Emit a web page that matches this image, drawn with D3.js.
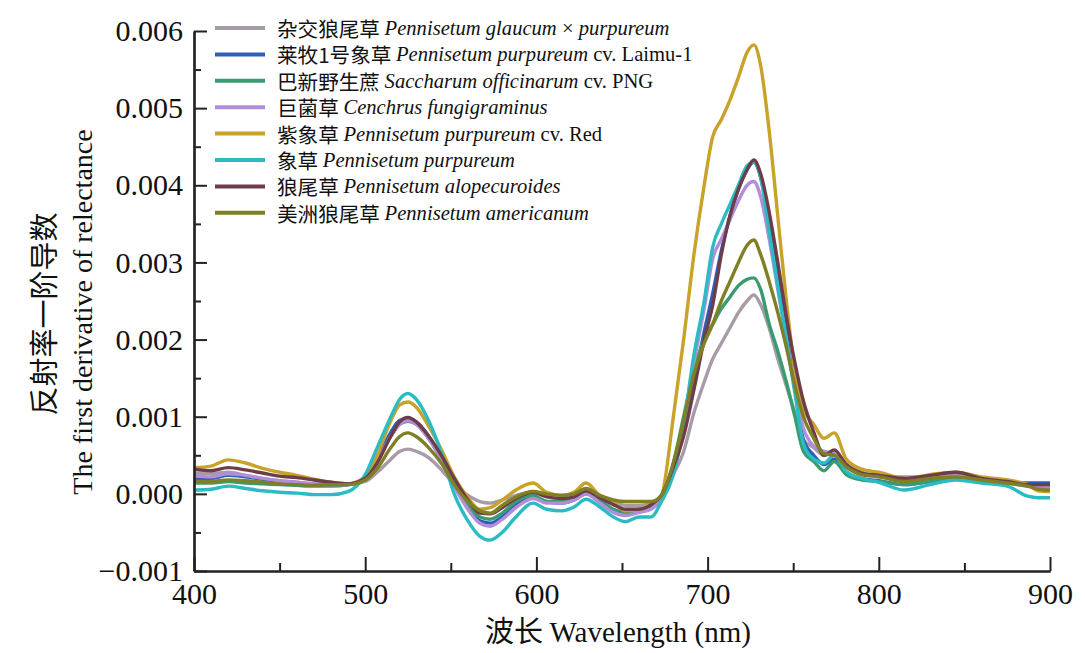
<!DOCTYPE html>
<html>
<head>
<meta charset="utf-8">
<script src="https://cdn.jsdelivr.net/npm/d3@7"></script>
<style>
  body { margin: 0; background: #fff; }
  svg { display: block; }
  text { font-family: "Liberation Serif", "Times New Roman", serif; fill: #111; }
  .cjk { font-family: "Noto Sans CJK SC", sans-serif; }
</style>
</head>
<body>
<svg id="chart" width="1085" height="653"></svg>
<script>
// wavelength grid (nm)
var wavelength = [400, 410, 420, 430, 440, 450, 460, 470, 480, 490,
  500, 507, 515, 520, 525, 530, 537, 545, 552, 560,
  567, 573, 580, 588, 598, 606, 615, 622, 629, 637,
  645, 652, 660, 667, 673, 680, 686, 692, 698, 703,
  708, 713, 718, 723, 727, 731, 736, 741, 746, 751,
  756, 762, 768, 774, 781, 790, 800, 815, 830, 845,
  860, 875, 887, 893, 900];

// first derivative values, in units of 0.001
var hybridGrass = [0.27, 0.26, 0.28, 0.24, 0.20, 0.17, 0.15, 0.13, 0.12, 0.12,
  0.16, 0.28, 0.45, 0.55, 0.58, 0.55, 0.47, 0.30, 0.12, -0.02,
  -0.10, -0.12, -0.08, -0.02, 0.02, -0.02, -0.02, -0.02, 0.03, -0.05,
  -0.10, -0.15, -0.15, -0.12, -0.05, 0.25, 0.55, 1.05, 1.45, 1.75,
  1.95, 2.15, 2.35, 2.50, 2.58, 2.45, 2.15, 1.75, 1.40, 1.05,
  0.70, 0.60, 0.50, 0.53, 0.35, 0.26, 0.24, 0.18, 0.20, 0.22,
  0.18, 0.14, 0.12, 0.10, 0.10];
var laimu1 = [0.20, 0.20, 0.24, 0.22, 0.19, 0.16, 0.14, 0.12, 0.11, 0.12,
  0.20, 0.45, 0.80, 0.95, 0.98, 0.93, 0.75, 0.45, 0.12, -0.18,
  -0.35, -0.38, -0.30, -0.15, -0.04, -0.10, -0.12, -0.08, 0.00, -0.10,
  -0.22, -0.26, -0.22, -0.18, -0.05, 0.30, 0.80, 1.45, 2.10, 2.60,
  3.15, 3.60, 3.95, 4.20, 4.30, 4.10, 3.50, 2.80, 2.10, 1.40,
  0.70, 0.50, 0.38, 0.45, 0.28, 0.20, 0.17, 0.12, 0.16, 0.20,
  0.17, 0.15, 0.14, 0.14, 0.14];
var png = [0.14, 0.14, 0.16, 0.14, 0.13, 0.12, 0.11, 0.10, 0.10, 0.12,
  0.20, 0.42, 0.75, 0.90, 0.94, 0.90, 0.72, 0.42, 0.12, -0.15,
  -0.30, -0.33, -0.25, -0.10, -0.02, -0.10, -0.10, -0.06, 0.02, -0.08,
  -0.20, -0.24, -0.20, -0.18, -0.05, 0.40, 1.00, 1.60, 2.00, 2.20,
  2.40, 2.55, 2.70, 2.78, 2.80, 2.65, 2.20, 1.85, 1.45, 1.00,
  0.55, 0.42, 0.30, 0.42, 0.25, 0.18, 0.16, 0.12, 0.16, 0.20,
  0.16, 0.14, 0.10, 0.09, 0.09];
var juncao = [0.23, 0.22, 0.26, 0.24, 0.20, 0.17, 0.15, 0.13, 0.12, 0.12,
  0.20, 0.42, 0.75, 0.90, 0.95, 0.90, 0.72, 0.42, 0.10, -0.20,
  -0.38, -0.42, -0.33, -0.18, -0.06, -0.12, -0.12, -0.08, 0.00, -0.12,
  -0.24, -0.28, -0.24, -0.20, -0.05, 0.30, 0.90, 1.70, 2.40, 3.05,
  3.30, 3.55, 3.80, 4.00, 4.05, 3.85, 3.30, 2.65, 2.00, 1.35,
  0.85, 0.62, 0.55, 0.52, 0.38, 0.28, 0.22, 0.22, 0.22, 0.24,
  0.20, 0.16, 0.12, 0.10, 0.10];
var redNapier = [0.34, 0.36, 0.44, 0.40, 0.33, 0.28, 0.24, 0.19, 0.15, 0.13,
  0.22, 0.50, 0.95, 1.15, 1.19, 1.12, 0.88, 0.55, 0.22, -0.05,
  -0.20, -0.18, -0.08, 0.05, 0.14, 0.02, -0.02, 0.02, 0.14, -0.02,
  -0.10, -0.22, -0.20, -0.12, -0.02, 1.00, 2.00, 3.10, 4.00, 4.63,
  4.85, 5.10, 5.40, 5.72, 5.82, 5.55, 4.70, 3.60, 2.50, 1.60,
  1.10, 0.90, 0.72, 0.79, 0.45, 0.32, 0.28, 0.20, 0.25, 0.28,
  0.22, 0.18, 0.12, 0.04, 0.03];
var napier = [0.05, 0.06, 0.10, 0.07, 0.04, 0.02, 0.01, -0.01, -0.01, 0.03,
  0.25, 0.60, 1.00, 1.22, 1.30, 1.22, 0.95, 0.50, 0.00, -0.35,
  -0.55, -0.60, -0.50, -0.30, -0.12, -0.20, -0.22, -0.17, -0.07, -0.17,
  -0.30, -0.36, -0.30, -0.30, -0.10, 0.25, 0.90, 1.80, 2.50, 3.20,
  3.50, 3.75, 4.00, 4.25, 4.30, 4.10, 3.40, 2.70, 2.00, 1.30,
  0.65, 0.45, 0.40, 0.50, 0.29, 0.20, 0.15, 0.05, 0.12, 0.18,
  0.14, 0.10, -0.03, -0.05, -0.05];
var fountainGrass = [0.32, 0.30, 0.34, 0.31, 0.27, 0.23, 0.21, 0.18, 0.15, 0.13,
  0.20, 0.40, 0.75, 0.93, 0.99, 0.93, 0.75, 0.48, 0.20, -0.08,
  -0.25, -0.26, -0.18, -0.06, 0.02, -0.04, -0.06, -0.04, 0.04, -0.05,
  -0.14, -0.20, -0.20, -0.14, -0.02, 0.35, 0.75, 1.35, 2.00, 2.45,
  3.10, 3.60, 3.95, 4.20, 4.33, 4.15, 3.65, 3.00, 2.30, 1.70,
  1.20, 0.80, 0.50, 0.57, 0.38, 0.27, 0.24, 0.20, 0.24, 0.28,
  0.20, 0.16, 0.12, 0.12, 0.12];
var pearlMillet = [0.16, 0.16, 0.18, 0.17, 0.15, 0.13, 0.12, 0.11, 0.12, 0.12,
  0.18, 0.33, 0.60, 0.74, 0.79, 0.74, 0.60, 0.38, 0.12, -0.10,
  -0.22, -0.25, -0.15, -0.04, 0.03, 0.00, -0.02, 0.00, 0.07, -0.02,
  -0.08, -0.10, -0.10, -0.10, -0.02, 0.40, 0.95, 1.55, 1.95, 2.20,
  2.50, 2.75, 3.00, 3.22, 3.29, 3.10, 2.75, 2.35, 1.90, 1.40,
  1.00, 0.72, 0.52, 0.50, 0.35, 0.25, 0.22, 0.16, 0.20, 0.22,
  0.18, 0.14, 0.10, 0.06, 0.05];

var seriesValues = [hybridGrass, laimu1, png, juncao, redNapier, napier, fountainGrass, pearlMillet];
var seriesColors = ["#a99aa8", "#2d5fb6", "#3b9b70", "#b28ddc", "#c9a229", "#2bbcc3", "#6d3e49", "#7f7f26"];
var namesCn = ["杂交狼尾草", "莱牧1号象草", "巴新野生蔗", "巨菌草", "紫象草", "象草", "狼尾草", "美洲狼尾草"];
var namesLatin = [
  [["Pennisetum glaucum", true], [" × ", false], ["purpureum", true]],
  [["Pennisetum purpureum", true], [" cv. Laimu-1", false]],
  [["Saccharum officinarum", true], [" cv. PNG", false]],
  [["Cenchrus fungigraminus", true]],
  [["Pennisetum purpureum", true], [" cv. Red", false]],
  [["Pennisetum purpureum", true]],
  [["Pennisetum alopecuroides", true]],
  [["Pennisetum americanum", true]]
];

var yMajor = [-0.001, 0, 0.001, 0.002, 0.003, 0.004, 0.005, 0.006];
var yMinor = [-0.0005, 0.0005, 0.0015, 0.0025, 0.0035, 0.0045, 0.0055];
var xMajor = [400, 500, 600, 700, 800, 900];
var xMinor = [450, 550, 650, 750, 850];

var svg = d3.select("#chart");
var plotLeft = 194, plotRight = 1050, plotTop = 31, plotBottom = 571;

var x = d3.scaleLinear().domain([400, 900]).range([plotLeft, plotRight]);
var y = d3.scaleLinear().domain([-0.001, 0.006]).range([plotBottom, plotTop]);

// lines
var line = d3.line()
  .x(function(d, i) { return x(wavelength[i]); })
  .y(function(d) { return y(d / 1000); })
  .curve(d3.curveMonotoneX);

svg.append("g").selectAll("path")
  .data(seriesValues)
  .join("path")
  .attr("d", line)
  .attr("fill", "none")
  .attr("stroke", function(d, i) { return seriesColors[i]; })
  .attr("stroke-width", 3.4)
  .attr("stroke-linejoin", "round");

// axes
function styleAxis(g) {
  g.selectAll(".domain").attr("stroke", "#222").attr("stroke-width", 2.2);
  g.selectAll(".tick line").attr("stroke", "#222").attr("stroke-width", 2);
}

svg.append("g")
  .attr("transform", "translate(" + plotLeft + ",0)")
  .call(d3.axisLeft(y).tickValues(yMinor).tickSize(-7).tickSizeOuter(0).tickFormat(""))
  .call(styleAxis);

var yAxis = svg.append("g")
  .attr("transform", "translate(" + plotLeft + ",0)")
  .call(d3.axisLeft(y).tickValues(yMajor).tickSize(-13).tickSizeOuter(0)
    .tickPadding(11).tickFormat(d3.format(".3f")))
  .call(styleAxis);
yAxis.selectAll("text")
  .style("font-family", "Liberation Serif, serif")
  .style("font-size", "30px")
  .attr("fill", "#111");

svg.append("g")
  .attr("transform", "translate(0," + plotBottom + ")")
  .call(d3.axisBottom(x).tickValues(xMinor).tickSize(-8).tickSizeOuter(0).tickFormat(""))
  .call(styleAxis);

var xAxis = svg.append("g")
  .attr("transform", "translate(0," + plotBottom + ")")
  .call(d3.axisBottom(x).tickValues(xMajor).tickSize(-14).tickSizeOuter(0).tickPadding(12))
  .call(styleAxis);
xAxis.selectAll("text")
  .style("font-family", "Liberation Serif, serif")
  .style("font-size", "30px")
  .attr("fill", "#111");

// axis titles
var xTitle = svg.append("text")
  .attr("x", 618).attr("y", 642)
  .attr("text-anchor", "middle")
  .style("font-size", "29px");
xTitle.append("tspan").attr("class", "cjk").text("波长 ");
xTitle.append("tspan").text("Wavelength (nm)");

svg.append("text")
  .attr("class", "cjk")
  .attr("transform", "translate(42,314) rotate(-90)")
  .attr("text-anchor", "middle")
  .attr("dominant-baseline", "central")
  .style("font-size", "29px")
  .text("反射率一阶导数");

svg.append("text")
  .attr("transform", "translate(82,312) rotate(-90)")
  .attr("text-anchor", "middle")
  .attr("dominant-baseline", "central")
  .style("font-size", "28px")
  .text("The first derivative of relectance");

// legend
var legend = svg.append("g");
var rows = legend.selectAll("g")
  .data(namesCn)
  .join("g")
  .attr("transform", function(d, i) { return "translate(0," + (28 + i * 26.4) + ")"; });

rows.append("line")
  .attr("x1", 215).attr("x2", 265)
  .attr("stroke", function(d, i) { return seriesColors[i]; })
  .attr("stroke-width", 4);

rows.each(function(d, i) {
  var t = d3.select(this).append("text")
    .attr("x", 277).attr("y", 0)
    .attr("dominant-baseline", "central")
    .style("font-size", "20.6px");
  t.append("tspan").attr("class", "cjk").text(d + " ");
  namesLatin[i].forEach(function(p) {
    t.append("tspan").style("font-style", p[1] ? "italic" : "normal").text(p[0]);
  });
});
</script>
</body>
</html>
